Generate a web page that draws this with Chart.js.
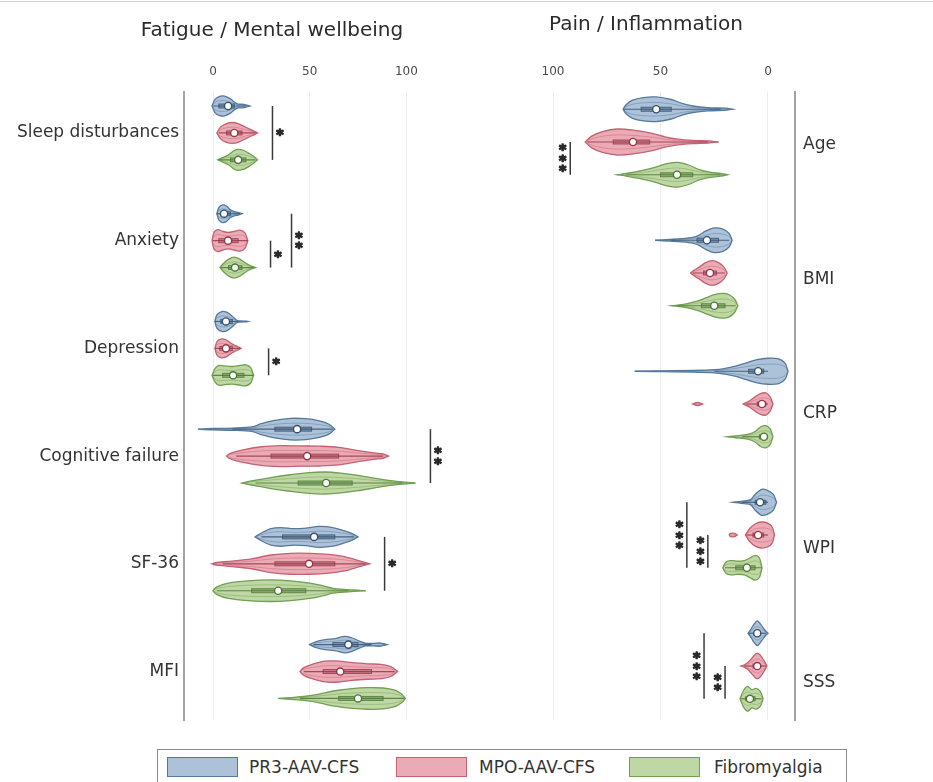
<!DOCTYPE html>
<html>
<head>
<meta charset="utf-8">
<title>Fatigue, mental wellbeing, pain and inflammation by group</title>
<script src="https://cdn.jsdelivr.net/npm/chart.js@4.4.1/dist/chart.umd.min.js"></script>
<style>
  html, body { margin: 0; padding: 0; background: #ffffff; }
  #page { position: relative; width: 933px; height: 782px; overflow: hidden; background: #fff; }
  #topRule { position: absolute; left: 0; top: 1px; width: 933px; height: 1px; background: #cfcfcf; }
  canvas { position: absolute; top: 0; }
  #fatigueChart { left: 0; }
  #painChart { left: 470px; }
  #legend { position: absolute; left: 157px; top: 749px; width: 690px; height: 40px;
            border: 1px solid #8c8c8c; box-sizing: border-box; background: #fff;
            font-family: "DejaVu Sans", sans-serif; font-size: 17px; color: #333; }
  .sw { position: absolute; top: 7px; width: 71px; height: 20px; box-sizing: border-box; border: 1.5px solid; }
  .lt { position: absolute; top: 7px; line-height: 20px; white-space: nowrap; }
</style>
</head>
<body>
<div id="page">
  <div id="topRule"></div>
  <canvas id="fatigueChart" width="544" height="740"></canvas>
  <canvas id="painChart" width="463" height="740"></canvas>
  <div id="legend"></div>
</div>
<script>
// ---- groups ----
const groupNames = ['PR3-AAV-CFS', 'MPO-AAV-CFS', 'Fibromyalgia'];

// ---- Fatigue / Mental wellbeing ----
const fatigueLabels = ['Sleep disturbances', 'Anxiety', 'Depression', 'Cognitive failure', 'SF-36', 'MFI'];
// [whisker low, Q1, median, Q3, whisker high]
const fatigueStatsPR3 = [[0, 3, 7.8, 11, 17], [2, 4, 5.7, 9, 14], [1, 4, 6.7, 10, 13], [10, 32, 43.5, 51, 62], [25, 36, 52.3, 63, 73], [52, 62, 70, 75, 82]];
const fatigueStatsMPO = [[3, 7, 11, 15, 22], [0, 3, 7.8, 13, 18], [1, 3.5, 6.7, 10, 14], [12, 30, 48.7, 65, 88], [5, 32, 49.7, 63, 79], [47, 57, 65.8, 82, 94]];
const fatigueStatsFM  = [[3, 9, 13, 17, 22], [4, 8, 11.4, 15, 21], [0, 5, 10.4, 16, 21], [22, 44, 58.5, 72, 98], [2, 20, 33.7, 48, 70], [45, 65, 75, 88, 99]];
// density outlines: [value, relative density]
const fatigueDensityPR3 = [
  [[-0.5, 0], [1, 0.6], [3.5, 0.88], [6, 0.9], [9, 0.65], [11.5, 0.3], [13, 0.18], [16, 0.14], [19, 0]],
  [[2, 0], [3, 0.55], [5, 0.8], [7, 0.7], [9, 0.35], [11, 0.2], [13, 0.12], [15, 0]],
  [[1, 0], [2, 0.6], [4.5, 0.9], [7, 0.85], [9.5, 0.55], [12, 0.15], [13.5, 0.05], [17, 0.03], [18, 0]],
  [[-7.8, 0], [0, 0.06], [10, 0.1], [20, 0.2], [25, 0.5], [32, 0.8], [40, 0.98], [48, 0.95], [55, 0.75], [60, 0.45], [63, 0]],
  [[21.8, 0], [25, 0.35], [30, 0.75], [35, 0.85], [42, 0.75], [48, 0.8], [55, 0.95], [62, 0.85], [68, 0.55], [72, 0.3], [75, 0]],
  [[50, 0], [53, 0.25], [58, 0.45], [63, 0.55], [68, 0.75], [72, 0.6], [76, 0.3], [79, 0.12], [83, 0.12], [86, 0.15], [88, 0.08], [90, 0]]
];
const fatigueDensityMPO = [
  [[2, 0], [4, 0.55], [7, 0.85], [10, 0.95], [13, 0.85], [16, 0.6], [19, 0.35], [21.5, 0.15], [23, 0]],
  [[-0.5, 0], [0.5, 0.75], [2.5, 1.0], [5, 0.85], [8, 0.75], [11, 0.85], [14, 0.95], [16.5, 0.7], [18, 0]],
  [[1, 0], [2, 0.6], [4, 0.85], [6.5, 0.8], [9, 0.5], [11, 0.3], [13, 0.15], [14.5, 0]],
  [[7, 0], [9, 0.25], [15, 0.55], [25, 0.85], [35, 0.95], [45, 0.92], [55, 0.9], [65, 0.8], [75, 0.5], [83, 0.3], [88, 0.2], [90.7, 0]],
  [[-0.5, 0], [2, 0.12], [10, 0.25], [20, 0.45], [30, 0.8], [40, 0.95], [50, 0.95], [60, 0.85], [68, 0.65], [74, 0.35], [78, 0.15], [81, 0]],
  [[45, 0], [47, 0.35], [52, 0.7], [58, 0.95], [65, 0.95], [72, 0.8], [80, 0.7], [87, 0.65], [92, 0.45], [95.5, 0]]
];
const fatigueDensityFM = [
  [[2.5, 0], [5, 0.2], [8, 0.45], [11, 0.85], [13, 0.95], [16, 0.85], [19, 0.55], [21.5, 0.25], [23, 0]],
  [[3.6, 0], [5, 0.3], [8, 0.75], [11, 0.95], [14, 0.75], [17, 0.4], [19, 0.2], [22, 0]],
  [[-0.5, 0], [1, 0.6], [3, 0.9], [6, 0.85], [10, 0.8], [14, 0.9], [17, 0.95], [19.5, 0.7], [21, 0]],
  [[15, 0], [20, 0.2], [30, 0.5], [40, 0.75], [50, 0.95], [58, 1.0], [66, 0.9], [75, 0.7], [85, 0.4], [95, 0.15], [104.7, 0]],
  [[0, 0], [2, 0.35], [8, 0.7], [18, 0.9], [30, 0.98], [40, 0.9], [50, 0.7], [57, 0.45], [62, 0.22], [70, 0.1], [79, 0]],
  [[33.7, 0], [40, 0.08], [48, 0.2], [55, 0.4], [63, 0.7], [72, 0.9], [80, 0.98], [88, 0.95], [94, 0.75], [97.5, 0.4], [99.5, 0]]
];
// significance: [category, from group, to group, stacking level, stars]
const fatigueSignif = [[0, 0, 2, 0, '*'], [1, 1, 2, 0, '*'], [1, 0, 2, 1, '**'], [2, 1, 2, 0, '*'], [3, 0, 2, 0, '**'], [4, 0, 2, 0, '*']];
const fatigueTicks = [0, 50, 100];

// ---- Pain / Inflammation ----
const painLabels = ['Age', 'BMI', 'CRP', 'WPI', 'SSS'];
const painStatsPR3 = [[22, 45, 52, 59, 67], [18, 23, 28.4, 33, 45], [0, 2, 4.6, 9, 25], [0, 1, 3.7, 6, 12], [1, 3.5, 5, 6.5, 9]];
const painStatsMPO = [[28, 55, 62.8, 72, 84], [20, 24, 27, 30, 35], [0, 1, 2.8, 5, 10], [0, 2, 4.6, 7, 10], [1, 4, 5, 7, 11]];
const painStatsFM  = [[22, 35, 42.3, 50, 66], [15, 20, 25, 31, 42], [0, 0.5, 1.9, 4, 12], [3, 6, 9.8, 15, 20], [3, 6, 8.4, 10.5, 12.5]];
const painDensityPR3 = [
  [[16.7, 0], [20, 0.08], [28, 0.12], [35, 0.25], [40, 0.45], [45, 0.75], [52, 0.95], [58, 0.9], [63, 0.7], [66, 0.35], [67.4, 0]],
  [[16.7, 0], [18, 0.5], [21, 0.85], [25, 0.95], [29, 0.7], [32, 0.4], [35, 0.22], [40, 0.12], [46, 0.06], [52.5, 0]],
  [[-9.3, 0], [-8, 0.6], [-5, 0.95], [0, 1.0], [5, 0.9], [10, 0.65], [15, 0.4], [20, 0.22], [25, 0.12], [35, 0.06], [50, 0.03], [62, 0]],
  [[-4, 0], [-2.5, 0.6], [0, 0.9], [3, 1.0], [6, 0.6], [8, 0.2], [11, 0.1], [16, 0]],
  [[0, 0], [1.5, 0.25], [3.5, 0.7], [5, 0.95], [6.5, 0.7], [8, 0.3], [9.3, 0]]
];
const painDensityMPO = [
  [[23, 0], [28, 0.08], [35, 0.12], [42, 0.22], [48, 0.4], [55, 0.7], [62, 0.9], [70, 1.0], [77, 0.8], [82, 0.45], [85, 0]],
  [[19, 0], [20.5, 0.45], [23, 0.8], [26, 0.95], [29, 0.8], [32, 0.45], [34.5, 0.2], [36, 0]],
  [[-2.3, 0], [-1, 0.55], [1, 0.85], [3.5, 0.8], [6, 0.55], [8.5, 0.25], [11.6, 0], [30.5, 0], [32.8, 0.12], [35, 0]],
  [[-3, 0], [-2, 0.6], [0, 0.9], [3, 1.0], [6, 0.85], [8.5, 0.5], [10.5, 0], [14.3, 0], [15.5, 0.12], [17.5, 0.12], [18, 0]],
  [[0.5, 0], [2, 0.45], [4, 0.9], [5.5, 0.95], [7.5, 0.6], [9.5, 0.25], [11, 0.1], [12.6, 0]]
];
const painDensityFM = [
  [[19, 0], [22, 0.1], [27, 0.2], [32, 0.4], [37, 0.75], [42, 0.95], [47, 0.85], [53, 0.55], [60, 0.28], [66, 0.1], [70, 0]],
  [[14, 0], [15.5, 0.5], [18, 0.85], [21, 0.95], [25, 0.85], [29, 0.6], [33, 0.35], [38, 0.15], [42, 0.05], [44.6, 0]],
  [[-2.3, 0], [-1, 0.6], [1, 0.85], [3.5, 0.75], [6, 0.4], [9, 0.2], [13, 0.1], [18.6, 0]],
  [[2.8, 0], [4, 0.75], [6, 0.95], [8.5, 0.75], [11, 0.55], [14, 0.5], [17, 0.55], [19.5, 0.45], [21, 0]],
  [[2.3, 0], [3.5, 0.55], [5.5, 0.8], [7.5, 0.7], [9.5, 0.95], [11.5, 0.6], [13, 0]]
];
const painSignif = [[0, 1, 2, 0, '***'], [3, 1, 2, 0, '***'], [3, 0, 2, 1, '***'], [4, 1, 2, 0, '**'], [4, 0, 2, 1, '***']];
const painTicks = [0, 50, 100];

// ---- styling ----
const palette = [
  { fill: '#adc2d9', line: '#56799b', dark: '#34516f' },
  { fill: '#eaabb6', line: '#c46272', dark: '#963748' },
  { fill: '#bfd7a4', line: '#70a051', dark: '#4c7833' }
];
const groupOffsets = [-0.25, 0, 0.25];
const FONT = '"DejaVu Sans", "Liberation Sans", sans-serif';

// Catmull-Rom spline through points, as cubic Béziers
function splineThrough(ctx, pts, start) {
  if (start) ctx.moveTo(pts[0].x, pts[0].y); else ctx.lineTo(pts[0].x, pts[0].y);
  for (let i = 0; i < pts.length - 1; i++) {
    const p0 = pts[i - 1] || pts[i], p1 = pts[i], p2 = pts[i + 1], p3 = pts[i + 2] || p2;
    ctx.bezierCurveTo(p1.x + (p2.x - p0.x) / 6, p1.y + (p2.y - p0.y) / 6,
                      p2.x - (p3.x - p1.x) / 6, p2.y - (p3.y - p1.y) / 6, p2.x, p2.y);
  }
}
// a density outline may contain gaps (two zeros in a row): split into pieces
function splitPieces(profile) {
  const pieces = [];
  let cur = [profile[0]];
  for (let i = 1; i < profile.length; i++) {
    if (profile[i][1] === 0 && profile[i - 1][1] === 0) { pieces.push(cur); cur = [profile[i]]; }
    else cur.push(profile[i]);
  }
  pieces.push(cur);
  return pieces.filter(p => p.length >= 2);
}
function violinPath(ctx, xs, cy, piece, half) {
  const top = piece.map(([v, d]) => ({ x: xs.getPixelForValue(v), y: cy - d * half }));
  const bot = piece.slice().reverse().map(([v, d]) => ({ x: xs.getPixelForValue(v), y: cy + d * half }));
  ctx.beginPath();
  splineThrough(ctx, top, true);
  splineThrough(ctx, bot, false);
  ctx.closePath();
}
function drawStars(ctx, x, cy, stars) {
  ctx.font = 'bold 14px ' + FONT;
  ctx.textAlign = 'center';
  ctx.textBaseline = 'alphabetic';
  ctx.lineWidth = 1.3;
  ctx.lineJoin = 'round';
  const m = ctx.measureText('*');
  const off = (m.actualBoundingBoxAscent - m.actualBoundingBoxDescent) / 2;
  const step = 10.5;
  for (let k = 0; k < stars.length; k++) {
    const y = cy + (k - (stars.length - 1) / 2) * step + off;
    ctx.strokeText('*', x, y);
    ctx.fillText('*', x, y);
  }
}

// draws the violins, inner boxes and significance brackets beneath the median points
function violinLayer(cfg) {
  return {
    id: 'violinLayer',
    beforeDatasetsDraw(chart) {
      const ctx = chart.ctx;
      const xs = chart.scales.x;
      const ys = chart.scales[cfg.yAxis];
      const dir = Math.sign(xs.getPixelForValue(1) - xs.getPixelForValue(0));
      ctx.save();
      cfg.groups.forEach((g, gi) => {
        const col = palette[gi];
        g.density.forEach((profile, ci) => {
          const cy = ys.getPixelForValue(ci + groupOffsets[gi]);
          splitPieces(profile).forEach(piece => {
            violinPath(ctx, xs, cy, piece, cfg.maxHalf);
            ctx.fillStyle = col.fill;
            ctx.fill();
            ctx.lineWidth = 1.3;
            ctx.strokeStyle = col.line;
            ctx.stroke();
            violinPath(ctx, xs, cy, piece, cfg.maxHalf * 0.55);
            ctx.globalAlpha = 0.45;
            ctx.lineWidth = 1;
            ctx.stroke();
            ctx.globalAlpha = 1;
          });
          const [lo, q1, , q3, hi] = g.stats[ci];
          const xLo = xs.getPixelForValue(lo), xHi = xs.getPixelForValue(hi);
          const x1 = xs.getPixelForValue(q1), x3 = xs.getPixelForValue(q3);
          ctx.strokeStyle = col.dark;
          ctx.globalAlpha = 0.85;
          ctx.lineWidth = 1.2;
          ctx.beginPath(); ctx.moveTo(xLo, cy); ctx.lineTo(xHi, cy); ctx.stroke();
          ctx.globalAlpha = 0.4;
          ctx.fillStyle = col.dark;
          ctx.fillRect(Math.min(x1, x3), cy - 2, Math.abs(x3 - x1), 4);
          ctx.globalAlpha = 0.8;
          ctx.lineWidth = 1;
          ctx.strokeRect(Math.min(x1, x3), cy - 2, Math.abs(x3 - x1), 4);
          ctx.globalAlpha = 1;
        });
      });
      // significance brackets
      cfg.signif.forEach(([ci, ga, gb, level, stars]) => {
        let edge = null;
        for (let gi = ga; gi <= gb; gi++) {
          cfg.groups[gi].density[ci].forEach(([v]) => {
            const px = xs.getPixelForValue(v);
            if (edge === null || (px - edge) * dir > 0) edge = px;
          });
        }
        const lx = edge + dir * (15 + level * 21);
        const y1 = ys.getPixelForValue(ci + groupOffsets[ga]);
        const y2 = ys.getPixelForValue(ci + groupOffsets[gb]);
        ctx.strokeStyle = '#3a3a3a';
        ctx.lineWidth = 1.5;
        ctx.beginPath(); ctx.moveTo(lx, y1); ctx.lineTo(lx, y2); ctx.stroke();
        ctx.fillStyle = '#2a2a2a';
        ctx.strokeStyle = '#2a2a2a';
        drawStars(ctx, lx + dir * 7.5, (y1 + y2) / 2, stars);
      });
      ctx.restore();
    }
  };
}

function medianSets(statsList, yAxisID) {
  return statsList.map((stats, gi) => ({
    label: groupNames[gi],
    data: stats.map((s, ci) => ({ x: s[2], y: ci + groupOffsets[gi] })),
    yAxisID,
    pointRadius: 3.6,
    pointBorderWidth: 1.4,
    pointBackgroundColor: '#ffffff',
    pointBorderColor: palette[gi].dark,
    showLine: false,
    clip: false
  }));
}

const tickFont = { family: FONT, size: 12 };
const labelFont = { family: FONT, size: 17 };
const titleFont = { family: FONT, size: 20, weight: 'normal' };

// left panel; an empty right-hand axis keeps the title centred over the panel
new Chart(document.getElementById('fatigueChart'), {
  type: 'scatter',
  data: { datasets: medianSets([fatigueStatsPR3, fatigueStatsMPO, fatigueStatsFM], 'y') },
  options: {
    responsive: false, animation: false, events: [],
    layout: { padding: { left: 0, right: 0, top: 0, bottom: 20 } },
    plugins: {
      legend: { display: false }, tooltip: { enabled: false },
      title: { display: true, text: 'Fatigue / Mental wellbeing', font: titleFont, color: '#2b2b2b',
               padding: { top: 18.6, bottom: 5 } }
    },
    scales: {
      x: {
        type: 'linear', position: 'top', min: -15, max: 120,
        afterBuildTicks: s => { s.ticks = fatigueTicks.map(v => ({ value: v })); },
        afterFit: s => { s.height = 44.4; },
        grid: { color: '#ededed', lineWidth: 1, drawTicks: false },
        border: { display: false },
        ticks: { padding: 13, font: tickFont, color: '#4a4a4a', maxRotation: 0 }
      },
      y: {
        type: 'linear', position: 'left', reverse: true, min: -0.38, max: 5.45,
        afterBuildTicks: s => { s.ticks = fatigueLabels.map((_, i) => ({ value: i })); },
        afterFit: s => { s.width = 184; },
        grid: { display: false, drawTicks: false },
        border: { display: true, color: '#a3a3a3', width: 2 },
        ticks: { callback: v => fatigueLabels[v], font: labelFont, color: '#333', padding: 5 }
      },
      gutter: {
        type: 'linear', position: 'right', min: 0, max: 1,
        afterFit: s => { s.width = 99; },
        grid: { display: false, drawTicks: false },
        border: { display: false },
        ticks: { display: false }
      }
    }
  },
  plugins: [violinLayer({
    yAxis: 'y', maxHalf: 11, signif: fatigueSignif,
    groups: [
      { stats: fatigueStatsPR3, density: fatigueDensityPR3 },
      { stats: fatigueStatsMPO, density: fatigueDensityMPO },
      { stats: fatigueStatsFM, density: fatigueDensityFM }
    ]
  })]
});

// right panel (value axis runs right to left)
new Chart(document.getElementById('painChart'), {
  type: 'scatter',
  data: { datasets: medianSets([painStatsPR3, painStatsMPO, painStatsFM], 'yData') },
  options: {
    responsive: false, animation: false, events: [],
    layout: { padding: { left: 27, right: 0, top: 0, bottom: 20 } },
    plugins: {
      legend: { display: false }, tooltip: { enabled: false },
      title: { display: true, fullSize: false, text: 'Pain / Inflammation', font: titleFont, color: '#2b2b2b',
               padding: { top: 13, bottom: 5 } }
    },
    scales: {
      x: {
        type: 'linear', position: 'top', reverse: true, min: -12.56, max: 126.05,
        afterBuildTicks: s => { s.ticks = painTicks.map(v => ({ value: v })); },
        afterFit: s => { s.height = 50; },
        grid: { color: '#ededed', lineWidth: 1, drawTicks: false },
        border: { display: false },
        ticks: { padding: 13, font: tickFont, color: '#4a4a4a', maxRotation: 0 }
      },
      y: {
        type: 'linear', position: 'right', reverse: true, min: -0.394, max: 4.275,
        afterBuildTicks: s => { s.ticks = painLabels.map((_, i) => ({ value: i })); },
        afterFit: s => { s.width = 138; },
        grid: { display: false, drawTicks: false },
        border: { display: true, color: '#a3a3a3', width: 2 },
        ticks: { callback: v => painLabels[v], font: labelFont, color: '#333', padding: 8 }
      },
      yData: {
        type: 'linear', display: false, reverse: true, min: -0.3817, max: 4.412
      }
    }
  },
  plugins: [violinLayer({
    yAxis: 'yData', maxHalf: 13, signif: painSignif,
    groups: [
      { stats: painStatsPR3, density: painDensityPR3 },
      { stats: painStatsMPO, density: painDensityMPO },
      { stats: painStatsFM, density: painDensityFM }
    ]
  })]
});

// shared legend
const legendSwatchLeft = [9, 238, 471];
const legendTextLeft = [91, 321, 556];
const legendEl = document.getElementById('legend');
groupNames.forEach((name, gi) => {
  const sw = document.createElement('div');
  sw.className = 'sw';
  sw.style.left = legendSwatchLeft[gi] + 'px';
  sw.style.background = palette[gi].fill;
  sw.style.borderColor = palette[gi].line;
  legendEl.appendChild(sw);
  const tx = document.createElement('div');
  tx.className = 'lt';
  tx.style.left = legendTextLeft[gi] + 'px';
  tx.textContent = name;
  legendEl.appendChild(tx);
});
</script>
</body>
</html>
